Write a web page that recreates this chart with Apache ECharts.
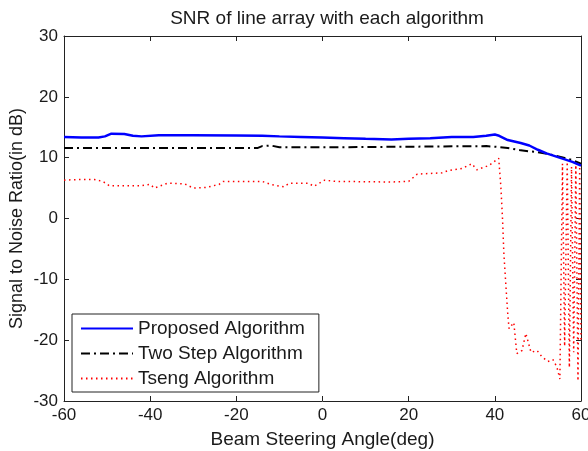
<!DOCTYPE html>
<html>
<head>
<meta charset="utf-8">
<script src="https://cdn.jsdelivr.net/npm/echarts@6/dist/echarts.min.js"></script>
<style>html,body{margin:0;padding:0;background:#fff}#c{width:588px;height:451px}</style>
</head>
<body>
<div id="c"></div>
<script>
const xTicks = [-60, -40, -20, 0, 20, 40, 60];
const yTicks = [-30, -20, -10, 0, 10, 20, 30];

const proposedAngle = [-60,-56,-52,-50.5,-49,-46,-44,-42,-38,-30,-20,-14,-10,-5,0,5,10,16,20,25,30,35,38,40,41,43,46,48,50,52,55,58,60];
const proposedSnr   = [13.4,13.3,13.3,13.5,13.95,13.9,13.6,13.5,13.7,13.7,13.65,13.6,13.5,13.4,13.3,13.2,13.1,13.0,13.1,13.2,13.4,13.4,13.6,13.8,13.6,12.9,12.4,12.0,11.3,10.7,10.0,9.3,8.7];

const twoStepAngle = [-60,-15,-14,-12,-10,0,20,38,40,43,46,50,53,56,58,60];
const twoStepSnr   = [11.6,11.6,11.9,12.0,11.7,11.7,11.8,11.9,11.8,11.6,11.2,10.9,10.5,10.0,9.6,9.0];

const tsengAngle = [-60,-57,-53,-51,-49.5,-42,-40,-39,-36,-32,-30,-27,-24,-23,-14,-12,-9,-7.7,-3.3,-2,0.5,3,16,20,22,27.7,29.3,32.3,34.7,35.8,38.6,40.9,41.2,41.4,41.8,42.1,42.6,43,43.3,44.4,45.1,46.3,47.2,48.4,49.8,50.9,52.3,53.5,54.4,55.1,55.7,56.2,56.8,57.3,57.8,58.3,58.8,59.3,59.7,60];
const tsengSnr   = [6.3,6.4,6.4,6.1,5.4,5.4,5.6,5.0,5.8,5.7,5.0,5.1,5.6,6.1,6.1,5.6,5.2,5.8,5.8,5.3,6.3,6.1,6.0,6.1,7.3,7.5,7.9,8.2,9.0,8.0,8.7,9.9,10.0,5.2,-0.3,-5.8,-11.4,-15.7,-18.1,-17.1,-22.2,-21.7,-18.9,-22.0,-21.7,-22.7,-23.5,-23.2,-24.4,-26.4,9.0,-21,9.3,-24.5,8.5,-22,9.2,-26.7,9.0,-20];

const pair = (a, b) => a.map((x, i) => [x, b[i]]);
const font = 'Liberation Sans, Arial, sans-serif';
const txt = '#1a1a1a';

const chart = echarts.init(document.getElementById('c'), null, {renderer: 'canvas'});
const axisCommon = {
  axisLine: {show: true, onZero: false, lineStyle: {color: '#222', width: 1}},
  axisTick: {show: true, inside: true, length: 5, lineStyle: {color: '#222'}},
  splitLine: {show: false}
};
chart.setOption({
  animation: false,
  backgroundColor: '#fff',
  title: {
    text: 'SNR of line array with each algorithm',
    left: 322, top: 4, textAlign: 'center',
    textStyle: {fontFamily: font, fontSize: 19, fontWeight: 'normal', color: txt}
  },
  grid: {left: 64, right: 7, top: 36, bottom: 50, containLabel: false, outerBoundsMode: 'none'},
  legend: {
    left: 72, top: 314, orient: 'vertical',
    itemWidth: 52, itemHeight: 19, itemGap: 6,
    padding: [5, 14, 4, 8],
    borderColor: '#222', borderWidth: 1, backgroundColor: '#fff',
    itemStyle: {opacity: 0, borderWidth: 0},
    textStyle: {fontFamily: font, fontSize: 19, color: txt},
    data: ['Proposed Algorithm', 'Two Step Algorithm', 'Tseng Algorithm']
  },
  xAxis: [
    Object.assign({}, axisCommon, {
      type: 'value', min: -60, max: 60, interval: 20, position: 'bottom',
      name: 'Beam Steering Angle(deg)', nameLocation: 'middle', nameGap: 29,
      nameMoveOverlap: false,
      nameTextStyle: {fontFamily: font, fontSize: 19, color: txt},
      axisLabel: {fontFamily: font, fontSize: 17, color: txt, margin: 6,
        formatter: v => xTicks.includes(v) ? String(v) : ''}
    }),
    Object.assign({}, axisCommon, {
      type: 'value', min: -60, max: 60, interval: 20, position: 'top',
      axisLabel: {show: false}
    })
  ],
  yAxis: [
    Object.assign({}, axisCommon, {
      type: 'value', min: -30, max: 30, interval: 10, position: 'left',
      name: 'Signal to Noise Ratio(in dB)', nameLocation: 'middle', nameGap: 38,
      nameMoveOverlap: false,
      nameTextStyle: {fontFamily: font, fontSize: 18, color: txt},
      axisLabel: {fontFamily: font, fontSize: 17, color: txt, margin: 6,
        formatter: v => yTicks.includes(v) ? String(v) : ''}
    }),
    Object.assign({}, axisCommon, {
      type: 'value', min: -30, max: 30, interval: 10, position: 'right',
      axisLabel: {show: false}
    })
  ],
  series: [
    {
      name: 'Proposed Algorithm', type: 'line', symbol: 'none',
      data: pair(proposedAngle, proposedSnr),
      lineStyle: {color: '#0000ff', width: 2.5}, itemStyle: {color: '#0000ff'}, z: 4
    },
    {
      name: 'Two Step Algorithm', type: 'line', symbol: 'none',
      data: pair(twoStepAngle, twoStepSnr),
      lineStyle: {color: '#000000', width: 2, type: [9, 4, 2, 4]}, itemStyle: {color: '#000000'}, z: 3
    },
    {
      name: 'Tseng Algorithm', type: 'line', symbol: 'none',
      data: pair(tsengAngle, tsengSnr),
      lineStyle: {color: '#ff0000', width: 1.5, type: [1.5, 3.5]}, itemStyle: {color: '#ff0000'}, z: 2
    }
  ]
});
</script>
</body>
</html>
